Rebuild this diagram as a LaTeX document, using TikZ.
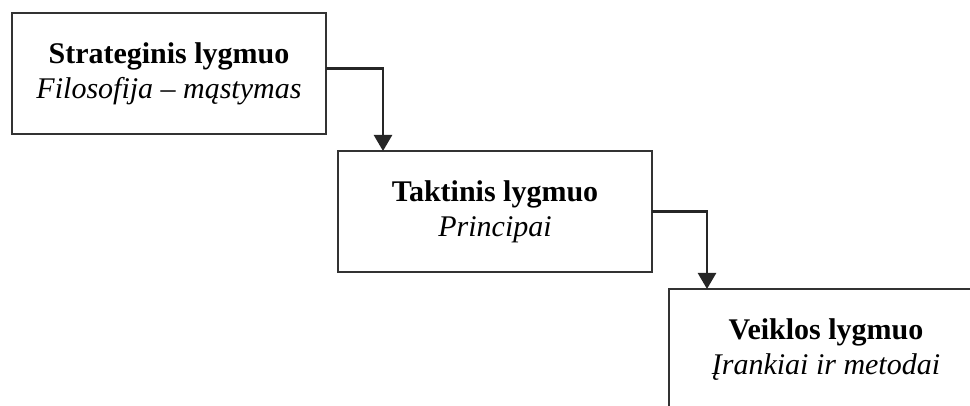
\documentclass[tikz,border=0pt]{standalone}
\usepackage{fontspec}
\setmainfont{Liberation Serif}
\usetikzlibrary{arrows.meta,positioning}
\tikzset{
  lygis/.style={draw=black!80,line width=1.5pt,minimum width=314pt,minimum height=121pt,
    inner sep=0pt,outer sep=0pt,align=center,font=\fontsize{30}{35}\selectfont},
  rodykle/.style={draw=black!85,line width=2.5pt,-{Triangle[width=18pt,length=16pt]}}
}
\begin{document}
\begin{tikzpicture}[x=1pt,y=1pt]
  \useasboundingbox (0,0) rectangle (970,-406);
  \clip (0,0) rectangle (970,-406);
  \node[lygis,anchor=north west] (strat) at (12,-13) {\textbf{Strateginis lygmuo}\\\textit{Filosofija -- mąstymas}};
  \node[lygis,below right=17pt and 12pt of strat.south east] (takt) {\textbf{Taktinis lygmuo}\\\textit{Principai}};
  \node[lygis,below right=17pt and 17pt of takt.south east] (veik) {\textbf{Veiklos lygmuo}\\\textit{Įrankiai ir metodai}};
  \draw[rodykle] ([yshift=5pt]strat.east) -| ([xshift=45pt]takt.north west);
  \draw[rodykle] (takt.east) -| ([xshift=38pt]veik.north west);
\end{tikzpicture}
\end{document}
